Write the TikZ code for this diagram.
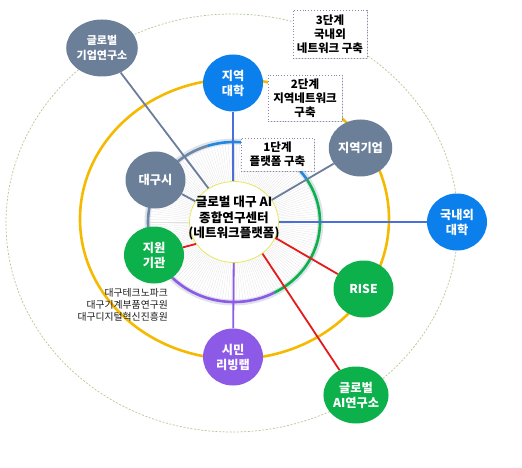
\documentclass[tikz,border=0pt]{standalone}
\usepackage{fontspec}
\setmainfont{Noto Sans CJK KR}
\usetikzlibrary{shapes.geometric,shadows}
\definecolor{cgray}{HTML}{6B7F99}
\definecolor{cblue}{HTML}{0B7FEC}
\definecolor{cgreen}{HTML}{0DB14B}
\definecolor{cpurple}{HTML}{8D5AE8}
\definecolor{cyellow}{HTML}{F5BA00}
\definecolor{cred}{HTML}{E31B1B}
\definecolor{lblue}{HTML}{4A6FD6}
\definecolor{lgray}{HTML}{6A7E9C}
\definecolor{outerc}{HTML}{B3C896}
\definecolor{haloc}{HTML}{DDE3EA}
\definecolor{boxc}{HTML}{8E84B8}
\definecolor{ringgray}{HTML}{6F87A6}
\definecolor{ringblue}{HTML}{1E88E5}
\definecolor{ctrborder}{HTML}{E6E65A}
\tikzset{
  hub/.style={ellipse, minimum width=60pt, minimum height=57pt, inner sep=0pt,
    text=white, font=\bfseries\fontsize{12.2}{15}\selectfont, align=center},
  stagebox/.style={draw=boxc, dotted, line width=0.9pt, fill=white, align=center,
    font=\bfseries\fontsize{11.5}{14}\selectfont, inner sep=0pt,
    drop shadow={shadow xshift=1.2pt, shadow yshift=-1.2pt, opacity=0.25}},
  conn/.style={line width=1.8pt},
  hatch/.style={line width=0.25pt, black!12},
  ringarc/.style={line width=2.6pt}
}
\begin{document}
\begin{tikzpicture}[x=1pt,y=-1pt]
\useasboundingbox (0,0) rectangle (522,468);
% outer dotted ring
\draw[outerc, line width=0.7pt, dash pattern=on 2pt off 1.6pt] (232,223) ellipse [x radius=226, y radius=209];
% yellow ring
\draw[cyellow, line width=2.6pt] (234.5,219) ellipse [x radius=154.5, y radius=140];
% inner ring hatch
\foreach \a in {0,2,...,358}
  \draw[hatch] ({234+45*cos(\a)},{222-41*sin(\a)}) -- ({234+84*cos(\a)},{222-78*sin(\a)});
\draw[haloc, line width=6pt] (234,222) ellipse [x radius=86.5, y radius=80.5];
\draw[ringarc, ringgray] plot[domain=108:225, samples=50] ({234+86*cos(\x)},{222-80*sin(\x)});
\draw[ringarc, ringblue] plot[domain=33:108, samples=40] ({234+86*cos(\x)},{222-80*sin(\x)});
\draw[ringarc, cgreen] plot[domain=-62:33, samples=50] ({234+86*cos(\x)},{222-80*sin(\x)});
\draw[ringarc, cpurple] plot[domain=-135:-62, samples=40] ({234+86*cos(\x)},{222-80*sin(\x)});
% center
\node[ellipse, draw=ctrborder, line width=0.8pt, fill=white, minimum width=89pt, minimum height=81pt, inner sep=0pt] (ctr) at (234,222) {};
\node[align=center, font=\bfseries\fontsize{12.6}{15.5}\selectfont] (ctrtxt) at (234,218) {글로벌 대구 AI\\종합연구센터\\(네트워크플랫폼)};
% hubs
\node[hub, fill=cgray, font=\bfseries\fontsize{11}{14.5}\selectfont] (gco) at (102,48) {글로벌\\기업연구소};
\node[hub, fill=cblue] (uni) at (233,83) {지역\\대학};
\node[hub, fill=cgray] (dgs) at (155.5,180) {대구시};
\node[hub, fill=cgreen] (jwg) at (154,255) {지원\\기관};
\node[hub, fill=cgray] (rcp) at (360.5,148) {지역기업};
\node[hub, fill=cblue] (inu) at (457,222) {국내외\\대학};
\node[hub, fill=cgreen] (rise) at (363.5,289) {RISE};
\node[hub, fill=cpurple] (lab) at (233,357) {시민\\리빙랩};
\node[hub, fill=cgreen] (gai) at (356,395) {글로벌\\AI연구소};
% connectors
\draw[conn, lgray] (gco) -- (ctr);
\draw[conn, lblue] (uni) -- (uni |- ctr.north);
\draw[conn, lgray] (dgs) -- (ctr);
\draw[conn, lgray] (rcp) -- (ctr);
\draw[conn, lblue] (inu) -- (ctr);
\draw[conn, cred] (rise) -- (ctr.-21);
\draw[conn, cred] (gai) -- (ctr.-48);
\draw[conn, cred] (jwg) -- (ctr.-150);
\draw[conn, cpurple] (lab) -- (ctr);
% stage boxes
\node[stagebox, minimum width=74pt, minimum height=48pt] (s3) at (330,34) {3단계\\국내외\\네트워크 구축};
\node[stagebox, minimum width=74pt, minimum height=46pt] (s2) at (305,98) {2단계\\지역네트워크\\구축};
\node[stagebox, minimum width=73pt, minimum height=33pt] (s1) at (277.5,154.5) {1단계\\플랫폼 구축};
% list
\node[anchor=north east, align=right, inner sep=0pt, text=black!90, font=\fontsize{9.8}{11.8}\selectfont] (lst) at (168,288.5) {대구테크노파크\\대구기계부품연구원\\대구디지털혁신진흥원};
\end{tikzpicture}
\end{document}
